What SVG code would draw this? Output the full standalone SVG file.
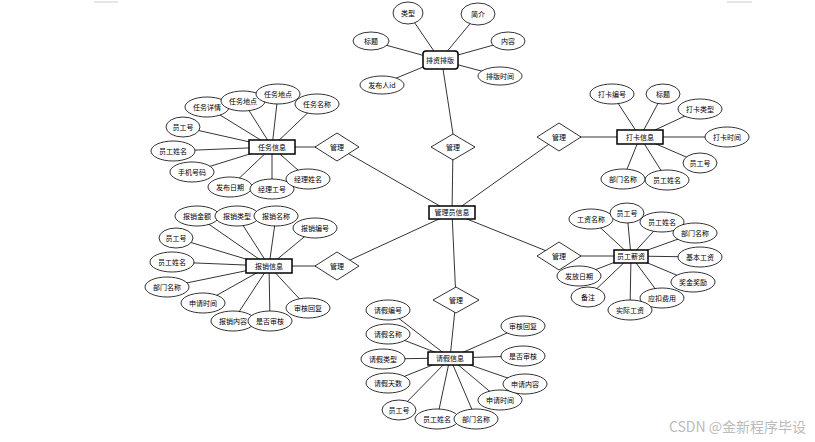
<svg xmlns="http://www.w3.org/2000/svg" width="815" height="442" viewBox="0 0 815 442">
<style>
.l{stroke:#000;stroke-width:0.8;fill:none}
.a{fill:#fff;stroke:#000;stroke-width:0.8}
.e{fill:#fff;stroke:#000;stroke-width:1.5}
.d{fill:#fff;stroke:#000;stroke-width:0.8}
text{font-family:"Noto Sans CJK SC","Noto Sans",sans-serif;font-size:7px;text-anchor:middle;fill:#000}
.wm{font-size:14px;fill:#bbb;text-anchor:end}
</style>
<rect width="815" height="442" fill="#fff"/>
<line x1="94" y1="2" x2="118" y2="2" stroke="#ccc" stroke-width="1"/>
<line x1="727" y1="2" x2="752" y2="2" stroke="#ccc" stroke-width="1"/>
<g id="connectors">
<!-- top cluster -->
<path class="l" d="M408,13 L440,60 M478,14 L440,60 M371,41 L440,60 M508,41 L440,60 M382,84 L440,60 M500,76 L440,60 M443,69 L453,134"/>
<!-- central -->
<path class="l" d="M453,147 L452,213 M337,147 L452,213 M337,266 L452,213 M559,137 L452,213 M559,256 L452,213 M452,213 L456,300"/>
<!-- task -->
<path class="l" d="M207,107 L272,147 M243,101 L272,147 M278,94 L272,147 M317,104 L272,147 M183,127 L272,147 M173,151 L272,147 M192,172 L272,147 M230,187 L272,147 M272,189 L272,147 M308,179 L272,147 M272,147 L337,147"/>
<!-- reimbursement -->
<path class="l" d="M197,216 L269,266 M237,216 L269,266 M276,216 L269,266 M315,228 L269,266 M176,238 L269,266 M172,262 L269,266 M167,287 L269,266 M203,303 L269,266 M233,321 L269,266 M270,321 L269,266 M308,308 L269,266 M269,266 L337,266"/>
<!-- clock -->
<path class="l" d="M612,94 L640,137 M663,94 L640,137 M700,109 L640,137 M727,137 L640,137 M700,163 L640,137 M667,180 L640,137 M623,179 L640,137 M640,137 L559,137"/>
<!-- salary -->
<path class="l" d="M591,219 L631,256 M627,213 L631,256 M662,222 L631,256 M695,233 L631,256 M700,257 L631,256 M693,282 L631,256 M662,298 L631,256 M630,310 L631,256 M588,297 L631,256 M579,276 L631,256 M631,256 L559,256"/>
<!-- leave -->
<path class="l" d="M388,310 L450,358 M388,334 L450,358 M383,359 L450,358 M388,383 L450,358 M399,410 L450,358 M437,419 L450,358 M476,419 L450,358 M500,400 L450,358 M525,384 L450,358 M523,356 L450,358 M523,326 L450,358 M450,358 L456,300"/>
</g>
<g id="n-top">
<rect class="e" x="423" y="51" width="35" height="18" rx="3"/><text x="440" y="62.5">排资排版</text>
<ellipse class="a" cx="408" cy="13" rx="15" ry="11"/><text x="408" y="15.5">类型</text>
<ellipse class="a" cx="478" cy="14" rx="17" ry="11"/><text x="478" y="16.5">简介</text>
<ellipse class="a" cx="371" cy="41" rx="18" ry="9"/><text x="371" y="43.5">标题</text>
<ellipse class="a" cx="508" cy="41" rx="17" ry="9"/><text x="508" y="43.5">内容</text>
<ellipse class="a" cx="382" cy="85" rx="22" ry="9"/><text x="382" y="87.5">发布人id</text>
<ellipse class="a" cx="500" cy="76" rx="22" ry="9"/><text x="500" y="78.5">排版时间</text>
</g>
<g id="n-center">
<rect class="e" x="429" y="206" width="46" height="13"/><text x="452" y="215">管理员信息</text>
</g>
<g id="diamonds">
<polygon class="d" points="431,147 453,134 475,147 453,160"/><text x="453" y="149.5">管理</text>
<polygon class="d" points="315,147 337,133 359,147 337,161"/><text x="337" y="149.5">管理</text>
<polygon class="d" points="315,266 337,252 359,266 337,280"/><text x="337" y="268.5">管理</text>
<polygon class="d" points="537,137 559,123 581,137 559,151"/><text x="559" y="139.5">管理</text>
<polygon class="d" points="537,256 559,242 581,256 559,270"/><text x="559" y="258.5">管理</text>
<polygon class="d" points="433,300 456,287 479,300 456,313"/><text x="456" y="302.5">管理</text>
</g>
<g id="n-task">
<rect class="e" x="249" y="140" width="46" height="14"/><text x="272" y="149.5">任务信息</text>
<ellipse class="a" cx="207" cy="107" rx="22" ry="10"/><text x="207" y="109.5">任务详情</text>
<ellipse class="a" cx="243" cy="101" rx="22" ry="10"/><text x="243" y="103.5">任务地点</text>
<ellipse class="a" cx="278" cy="94" rx="22" ry="10"/><text x="278" y="96.5">任务地点</text>
<ellipse class="a" cx="317" cy="104" rx="22" ry="10"/><text x="317" y="106.5">任务名称</text>
<ellipse class="a" cx="183" cy="127" rx="17" ry="10"/><text x="183" y="129.5">员工号</text>
<ellipse class="a" cx="173" cy="151" rx="22" ry="10"/><text x="173" y="153.5">员工姓名</text>
<ellipse class="a" cx="192" cy="172" rx="22" ry="10"/><text x="192" y="174.5">手机号码</text>
<ellipse class="a" cx="230" cy="187" rx="22" ry="10"/><text x="230" y="189.5">发布日期</text>
<ellipse class="a" cx="272" cy="189" rx="22" ry="10"/><text x="272" y="191.5">经理工号</text>
<ellipse class="a" cx="308" cy="179" rx="22" ry="10"/><text x="308" y="181.5">经理姓名</text>
</g>
<g id="n-reimb">
<rect class="e" x="246" y="259" width="46" height="14"/><text x="269" y="268.5">报销信息</text>
<ellipse class="a" cx="197" cy="216" rx="22" ry="10"/><text x="197" y="218.5">报销金额</text>
<ellipse class="a" cx="237" cy="216" rx="22" ry="10"/><text x="237" y="218.5">报销类型</text>
<ellipse class="a" cx="276" cy="216" rx="22" ry="10"/><text x="276" y="218.5">报销名称</text>
<ellipse class="a" cx="315" cy="228" rx="22" ry="10"/><text x="315" y="230.5">报销编号</text>
<ellipse class="a" cx="176" cy="238" rx="17" ry="10"/><text x="176" y="240.5">员工号</text>
<ellipse class="a" cx="172" cy="262" rx="22" ry="10"/><text x="172" y="264.5">员工姓名</text>
<ellipse class="a" cx="167" cy="287" rx="22" ry="10"/><text x="167" y="289.5">部门名称</text>
<ellipse class="a" cx="203" cy="303" rx="22" ry="10"/><text x="203" y="305.5">申请时间</text>
<ellipse class="a" cx="233" cy="321" rx="22" ry="10"/><text x="233" y="323.5">报销内容</text>
<ellipse class="a" cx="270" cy="321" rx="22" ry="10"/><text x="270" y="323.5">是否审核</text>
<ellipse class="a" cx="308" cy="308" rx="22" ry="10"/><text x="308" y="310.5">审核回复</text>
</g>
<g id="n-clock">
<rect class="e" x="617" y="130" width="46" height="14"/><text x="640" y="139.5">打卡信息</text>
<ellipse class="a" cx="612" cy="94" rx="22" ry="10"/><text x="612" y="96.5">打卡编号</text>
<ellipse class="a" cx="663" cy="94" rx="17" ry="10"/><text x="663" y="96.5">标题</text>
<ellipse class="a" cx="700" cy="109" rx="22" ry="10"/><text x="700" y="111.5">打卡类型</text>
<ellipse class="a" cx="727" cy="137" rx="22" ry="10"/><text x="727" y="139.5">打卡时间</text>
<ellipse class="a" cx="700" cy="163" rx="17" ry="10"/><text x="700" y="165.5">员工号</text>
<ellipse class="a" cx="667" cy="180" rx="22" ry="10"/><text x="667" y="182.5">员工姓名</text>
<ellipse class="a" cx="623" cy="179" rx="22" ry="10"/><text x="623" y="181.5">部门名称</text>
</g>
<g id="n-salary">
<rect class="e" x="614" y="250" width="34" height="13"/><text x="631" y="259">员工薪资</text>
<ellipse class="a" cx="591" cy="219" rx="22" ry="10"/><text x="591" y="221.5">工资名称</text>
<ellipse class="a" cx="627" cy="213" rx="17" ry="10"/><text x="627" y="215.5">员工号</text>
<ellipse class="a" cx="662" cy="222" rx="22" ry="10"/><text x="662" y="224.5">员工姓名</text>
<ellipse class="a" cx="695" cy="233" rx="22" ry="10"/><text x="695" y="235.5">部门名称</text>
<ellipse class="a" cx="700" cy="257" rx="22" ry="10"/><text x="700" y="259.5">基本工资</text>
<ellipse class="a" cx="693" cy="282" rx="22" ry="10"/><text x="693" y="284.5">奖金奖励</text>
<ellipse class="a" cx="662" cy="298" rx="22" ry="10"/><text x="662" y="300.5">应扣费用</text>
<ellipse class="a" cx="630" cy="310" rx="22" ry="10"/><text x="630" y="312.5">实际工资</text>
<ellipse class="a" cx="588" cy="297" rx="17" ry="10"/><text x="588" y="299.5">备注</text>
<ellipse class="a" cx="579" cy="276" rx="22" ry="10"/><text x="579" y="278.5">发放日期</text>
</g>
<g id="n-leave">
<rect class="e" x="428" y="352" width="45" height="13"/><text x="450" y="361">请假信息</text>
<ellipse class="a" cx="388" cy="310" rx="22" ry="10"/><text x="388" y="312.5">请假编号</text>
<ellipse class="a" cx="388" cy="334" rx="22" ry="10"/><text x="388" y="336.5">请假名称</text>
<ellipse class="a" cx="383" cy="359" rx="22" ry="10"/><text x="383" y="361.5">请假类型</text>
<ellipse class="a" cx="388" cy="383" rx="22" ry="10"/><text x="388" y="385.5">请假天数</text>
<ellipse class="a" cx="399" cy="410" rx="17" ry="10"/><text x="399" y="412.5">员工号</text>
<ellipse class="a" cx="437" cy="419" rx="22" ry="10"/><text x="437" y="421.5">员工姓名</text>
<ellipse class="a" cx="476" cy="419" rx="22" ry="10"/><text x="476" y="421.5">部门名称</text>
<ellipse class="a" cx="500" cy="400" rx="22" ry="10"/><text x="500" y="402.5">申请时间</text>
<ellipse class="a" cx="525" cy="384" rx="22" ry="10"/><text x="525" y="386.5">申请内容</text>
<ellipse class="a" cx="523" cy="356" rx="22" ry="10"/><text x="523" y="358.5">是否审核</text>
<ellipse class="a" cx="523" cy="326" rx="22" ry="10"/><text x="523" y="328.5">审核回复</text>
</g>
<text class="wm" x="806" y="432">CSDN @金新程序毕设</text>
</svg>
